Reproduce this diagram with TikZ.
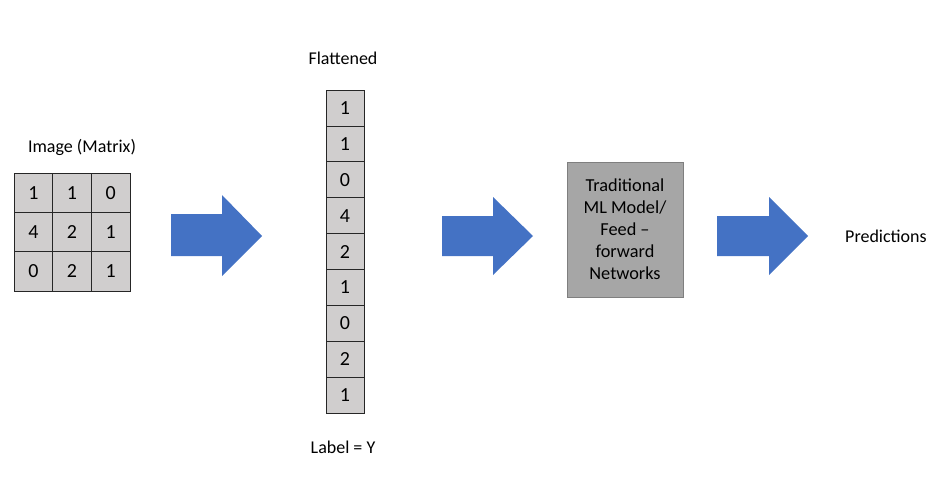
\documentclass[tikz,border=0pt]{standalone}
\usepackage{fontspec}
\setmainfont{Carlito}
\definecolor{cellgray}{HTML}{D0CECE}
\definecolor{boxgray}{HTML}{A6A6A6}
\definecolor{boxedge}{HTML}{7F7F7F}
\definecolor{officeblue}{HTML}{4472C4}
\tikzset{
  cell/.style={draw=black!85, fill=cellgray, line width=0.8pt, inner sep=0pt,
    minimum width=38.7pt, minimum height=39.3pt, font=\fontsize{20}{24}\selectfont},
  fcell/.style={draw=black!85, fill=cellgray, line width=0.8pt, inner sep=0pt,
    minimum width=38pt, minimum height=35.9pt, font=\fontsize{20}{24}\selectfont},
  lbl/.style={font=\fontsize{18}{22}\selectfont, inner sep=0pt},
  model/.style={draw=boxedge, fill=boxgray, line width=0.8pt, minimum width=116pt,
    minimum height=135pt, align=center, inner sep=0pt, font=\fontsize{18.3}{22}\selectfont},
  blockarrow/.style={fill=officeblue}
}
\begin{document}
\begin{tikzpicture}[x=1pt,y=-1pt]
\useasboundingbox (0,0) rectangle (931,479);
% image matrix
\node[lbl] (imglbl) at (82,147) {Image (Matrix)};
\foreach \r/\row in {1/{1,1,0},2/{4,2,1},3/{0,2,1}}{
  \foreach \v [count=\c] in \row {
    \node[cell] (m\r\c) at ({14+19.35+(\c-1)*38.7},{173+19.65+(\r-1)*39.3}) {\v};
  }
}
% arrow 1
\fill[blockarrow] (171,214) -- (222,214) -- (222,195) -- (262,236) -- (222,276) -- (222,256) -- (171,256) -- cycle;
% flattened
\node[lbl] (flatlbl) at (343,58) {Flattened};
\foreach \v [count=\i] in {1,1,0,4,2,1,0,2,1}{
  \node[fcell] (f\i) at (345,{90+17.95+(\i-1)*35.9}) {\v};
}
\node[lbl] (ylbl) at (343,447) {Label = Y};
% arrow 2
\fill[blockarrow] (442,216) -- (493,216) -- (493,197) -- (533,236) -- (493,275) -- (493,256) -- (442,256) -- cycle;
% model box
\node[model] (model) at (625,229.5) {Traditional\\ML Model/\\Feed --\\forward\\Networks};
% arrow 3
\fill[blockarrow] (717,216) -- (769,216) -- (769,197) -- (808,236) -- (769,275) -- (769,256) -- (717,256) -- cycle;
\node[lbl, anchor=west] (pred) at (845,236) {Predictions};
\end{tikzpicture}
\end{document}
